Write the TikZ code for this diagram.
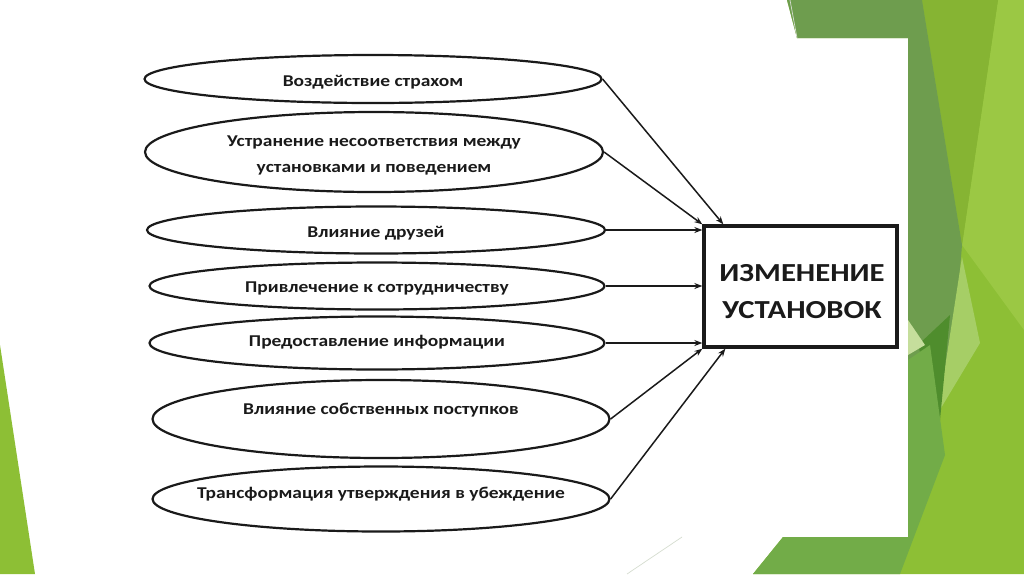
\documentclass[tikz,border=0pt]{standalone}
\usepackage{fontspec}
\setmainfont{Carlito}[FakeStretch=1.18]
\usetikzlibrary{shapes.geometric,arrows.meta}
\definecolor{gBright}{HTML}{8DBF35}
\definecolor{gLight}{HTML}{9BC844}
\definecolor{gYellow}{HTML}{86B433}
\definecolor{gMuted}{HTML}{6E9D4E}
\definecolor{gPale}{HTML}{A6CE66}
\definecolor{gPaler}{HTML}{C5DE9C}
\definecolor{gDark}{HTML}{4F8D2D}
\definecolor{gMedium}{HTML}{72AC48}
\definecolor{gLine}{HTML}{D6DDD0}
\definecolor{ink}{HTML}{1A1A1A}
\begin{document}
\begin{tikzpicture}[x=1pt,y=-1pt,
  oval/.style={ellipse, draw=ink, line width=2.2pt, inner sep=0pt},
  lbl/.style={font=\bfseries\fontsize{16.5}{26}\selectfont, text=ink, align=center, inner sep=0pt, text height=0.7em, text depth=0.2em},
  lbltwo/.style={font=\bfseries\fontsize{16.5}{26}\selectfont, text=ink, align=center, inner sep=0pt},
  boxlbl/.style={font=\bfseries\fontsize{26}{36.5}\selectfont, text=ink, align=center, inner sep=0pt},
  link/.style={draw=ink, line width=1.5pt, -{Stealth[length=8pt,width=6pt]}},
  target/.style={draw=ink, line width=3.3pt, inner sep=0pt}
]
\useasboundingbox (0,0) rectangle (1024,574);
\fill[white] (0,0) rectangle (1024,574);
% background facets
\fill[gBright] (787,0) -- (1024,0) -- (1024,574) -- (753,574) -- (783,537) -- (908,537) -- (908,38) -- (797,38) -- cycle;
\fill[gLight] (998,0) -- (1024,0) -- (1024,330) -- (962,245) -- cycle;
\fill[gYellow] (922,0) -- (998,0) -- (962,245) -- cycle;
\fill[gMuted] (787,0) -- (922,0) -- (962,245) -- (955,330) -- (935,420) -- (908,470) -- (908,38) -- (797,38) -- cycle;
\fill[gPale] (962,257) -- (980,343) -- (938,413) -- cycle;
\fill[gDark] (918,345) -- (950,315) -- (940,420) -- cycle;
\fill[gMedium] (753,574) -- (783,537) -- (908,537) -- (908,360) -- (930,345) -- (945,455) -- (900,574) -- cycle;
\fill[gPaler] (908,320) -- (925,345) -- (908,355) -- cycle;
\fill[gBright] (0,345) -- (35,574) -- (0,574) -- cycle;
\draw[gLine, line width=0.7pt] (627,574) -- (682,537);
\draw[gLine, line width=0.7pt] (790,0) -- (797,38);
% ovals
\node[oval, minimum width=457pt, minimum height=48pt] (e1) at (373,79) {};
\node[oval, minimum width=458pt, minimum height=80pt] (e2) at (374,152) {};
\node[oval, minimum width=458pt, minimum height=47pt] (e3) at (376,230) {};
\node[oval, minimum width=455pt, minimum height=47pt] (e4) at (377,286) {};
\node[oval, minimum width=455pt, minimum height=53pt] (e5) at (377,343) {};
\node[oval, minimum width=457pt, minimum height=78pt] (e6) at (381,419) {};
\node[oval, minimum width=457pt, minimum height=65pt] (e7) at (381,499) {};
\node[lbl] (t1) at (373,84) {Воздействие страхом};
\node[lbltwo] (t2) at (374,155) {Устранение несоответствия между\\установками и поведением};
\node[lbl] (t3) at (376,235) {Влияние друзей};
\node[lbl] (t4) at (377,290) {Привлечение к сотрудничеству};
\node[lbl] (t5) at (377,344) {Предоставление информации};
\node[lbl] (t6) at (381,412) {Влияние собственных поступков};
\node[lbl] (t7) at (381,495.5) {Трансформация утверждения в убеждение};
% target box
\node[target, minimum width=193pt, minimum height=121pt] (box) at (800.5,286.5) {};
\node[boxlbl] (bt) at (802,291.5) {ИЗМЕНЕНИЕ\\УСТАНОВОК};
% connectors
\draw[link] (e1.east) -- ([xshift=21pt]box.north west);
\draw[link] (e2.east) -- (box.north west);
\draw[link] (e3.east) -- (e3.east -| box.west);
\draw[link] (e4.east) -- (e4.east -| box.west);
\draw[link] (e5.east) -- (e5.east -| box.west);
\draw[link] (e6.east) -- (box.south west);
\draw[link] (e7.east) -- ([xshift=23pt]box.south west);
\end{tikzpicture}
\end{document}
